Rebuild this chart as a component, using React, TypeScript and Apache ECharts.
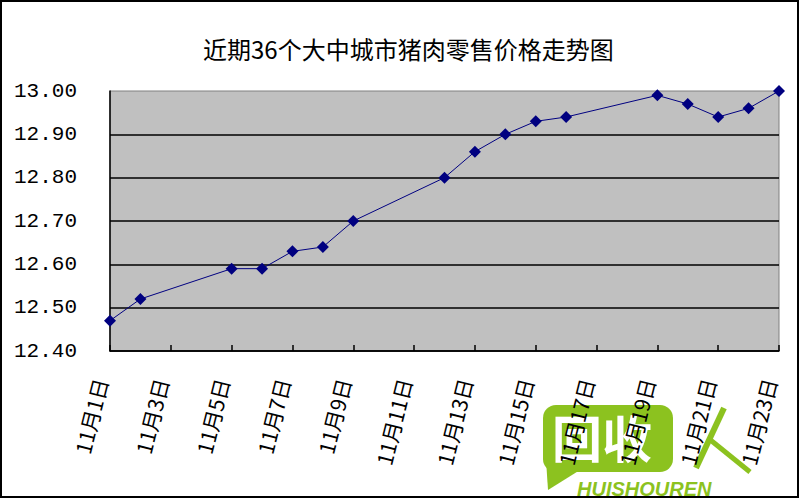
import React, { useEffect, useRef } from "react";
import * as echarts from "echarts";

const titleText = "近期36个大中城市猪肉零售价格走势图";
const categories = [
  "11月1日", "11月2日", "11月3日", "11月4日", "11月5日", "11月6日", "11月7日", "11月8日",
  "11月9日", "11月10日", "11月11日", "11月12日", "11月13日", "11月14日", "11月15日", "11月16日",
  "11月17日", "11月18日", "11月19日", "11月20日", "11月21日", "11月22日", "11月23日",
];
const prices = [
  12.47, 12.52, null, null, 12.59, 12.59, 12.63, 12.64,
  12.70, null, null, 12.80, 12.86, 12.90, 12.93, 12.94,
  null, null, 12.99, 12.97, 12.94, 12.96, 13.0,
];
const yMin = 12.4;
const yMax = 13.0;
const yStep = 0.1;

export default function App() {
  const ref = useRef<HTMLDivElement>(null);
  useEffect(() => {
    document.body.style.margin = "0";
    const chart = echarts.init(ref.current!, null, { renderer: "svg" });
    const green = "#8cc21f";
    chart.setOption({
      animation: false,
      backgroundColor: "#ffffff",
      title: {
        text: titleText,
        left: 198,
        top: 31,
        textStyle: {
          fontFamily: "Noto Sans CJK SC",
          fontSize: 24,
          fontWeight: "normal",
          color: "#000",
        },
      },
      grid: {
        left: 110,
        right: 21,
        top: 91,
        bottom: 149,
        show: true,
        backgroundColor: "#c0c0c0",
        borderColor: "#808080",
        borderWidth: 1,
      },
      xAxis: {
        type: "category",
        data: categories,
        boundaryGap: false,
        axisLine: { show: true, lineStyle: { color: "#000", width: 1.5 } },
        axisTick: { show: true, inside: true, length: 6, interval: 1, lineStyle: { color: "#000", width: 1.5 } },
        axisLabel: {
          interval: 1,
          rotate: 76,
          margin: 30,
          lineHeight: 20,
          formatter: (v: string) => v + "\n ",
          fontFamily: "Noto Sans CJK JP",
          fontSize: 21,
          color: "#000",
        },
        splitLine: { show: false },
      },
      yAxis: {
        type: "value",
        min: yMin,
        max: yMax,
        interval: yStep,
        axisLine: { show: true, lineStyle: { color: "#000", width: 1.5 } },
        axisTick: { show: false },
        axisLabel: {
          margin: 33,
          fontFamily: "Liberation Mono",
          fontSize: 21,
          color: "#000",
          formatter: (v: number) => v.toFixed(2),
        },
        splitLine: {
          show: true,
          showMaxLine: false,
          lineStyle: { color: "#000", width: 1.5 },
        },
      },
      series: [
        {
          type: "line",
          data: prices,
          connectNulls: true,
          symbol: "diamond",
          symbolSize: 12,
          itemStyle: { color: "#000080" },
          lineStyle: { color: "#000080", width: 1 },
        },
      ],
      graphic: [
        {
          type: "rect",
          z: 100,
          shape: { x: 1, y: 1, width: 797, height: 496 },
          style: { fill: "none", stroke: "#000", lineWidth: 2 },
        },
        {
          type: "group",
          z: 100,
          children: [
            {
              type: "rect",
              shape: { x: 543, y: 405, width: 130, height: 67, r: 13 },
              style: { fill: green },
            },
            {
              type: "polygon",
              shape: { points: [[546, 460], [548, 490], [580, 470]] },
              style: { fill: green },
            },
            {
              type: "text",
              style: {
                x: 552,
                y: 411,
                text: "回收",
                fill: "#fff",
                font: "bold 50px 'Noto Sans CJK SC'",
              },
            },
            {
              type: "polyline",
              shape: { points: [[724, 408], [696, 468]] },
              style: { stroke: green, lineWidth: 6, fill: "none" },
            },
            {
              type: "polyline",
              shape: { points: [[708, 438], [750, 472]] },
              style: { stroke: green, lineWidth: 5, fill: "none" },
            },
            {
              type: "text",
              style: {
                x: 577,
                y: 479,
                text: "HUISHOUREN",
                fill: green,
                font: "italic bold 20px 'Liberation Sans'",
              },
            },
          ],
        },
      ],
    });
    return () => chart.dispose();
  }, []);
  return <div ref={ref} style={{ width: 800, height: 500 }} />;
}
